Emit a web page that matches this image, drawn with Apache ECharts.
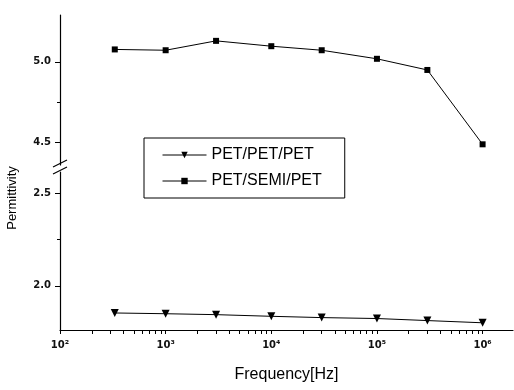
<!DOCTYPE html>
<html>
<head>
<meta charset="utf-8">
<script src="https://cdn.jsdelivr.net/npm/echarts@6/dist/echarts.min.js"></script>
<style>html,body{margin:0;padding:0;background:#fff}#c{width:514px;height:390px}</style>
</head>
<body>
<div id="c"></div>
<script>
// ---- data ----
var frequencies = [330, 1000, 3000, 10000, 30000, 100000, 300000, 1000000];
var petPetPet   = [1.853, 1.849, 1.844, 1.835, 1.828, 1.823, 1.812, 1.800];
var petSemiPet  = [5.077, 5.072, 5.130, 5.097, 5.072, 5.019, 4.950, 4.490];
var seriesNames = ['PET/PET/PET', 'PET/SEMI/PET'];
var xMajorTicks = [100, 1000, 10000, 100000, 1000000];
var xTickLabels = ['10\u00B2', '10\u00B3', '10\u2074', '10\u2075', '10\u2076'];
var yUpperTicks = [4.5, 5.0];
var yUpperMinor = [4.75];
var yLowerTicks = [2.0, 2.5];
var yLowerMinor = [2.25];

var xMin = 100, xMax = 1940000;
// all log ticks: decades plus 2..9 per decade
var xAllTicks = [];
xMajorTicks.forEach(function (d) { for (var k = 1; k <= 9; k++) { if (d * k < xMax) xAllTicks.push(d * k); } });

function pair(a, b) { return a.map(function (v, i) { return [v, b[i]]; }); }
var labelFont = { fontFamily: 'DejaVu Sans', fontWeight: 'bold', fontSize: 10, color: '#111' };
var axisLine = { show: true, lineStyle: { color: '#000', width: 1.2 } };

var chart = echarts.init(document.getElementById('c'), null, { renderer: 'canvas' });
chart.setOption({
  animation: false,
  backgroundColor: '#fff',
  grid: [
    { left: 60, right: 1, top: 15, height: 150 },
    { left: 60, right: 1, top: 172, bottom: 60 }
  ],
  xAxis: [
    { gridIndex: 0, type: 'log', min: xMin, max: xMax, show: false },
    { gridIndex: 1, type: 'log', position: 'bottom', min: xMin, max: xMax,
      axisLine: { show: true, onZero: false, lineStyle: { color: '#000', width: 1.2 } },
      axisTick: { show: true, length: 4, customValues: xAllTicks, lineStyle: { color: '#000', width: 1 } },
      axisLabel: { show: true, customValues: xMajorTicks, margin: 10,
        formatter: function (v) { var i = xMajorTicks.indexOf(v); return i >= 0 ? xTickLabels[i] : ''; },
        fontFamily: 'DejaVu Sans', fontWeight: 'bold', fontSize: 10, color: '#111' },
      splitLine: { show: false },
      name: 'Frequency[Hz]', nameLocation: 'middle', nameGap: 37,
      nameTextStyle: { fontFamily: 'Liberation Sans', fontSize: 16, color: '#000' } }
  ],
  yAxis: [
    { gridIndex: 0, type: 'value', position: 'left', min: 4.362, max: 5.29, axisLine: axisLine,
      axisTick: { show: true, length: 5, customValues: yUpperTicks, lineStyle: { color: '#000' } },
      axisLabel: Object.assign({ show: true, customValues: yUpperTicks, margin: 9,
        formatter: function (v) { return v.toFixed(1); } }, labelFont),
      splitLine: { show: false } },
    { gridIndex: 1, type: 'value', position: 'left', min: 1.761, max: 2.615, axisLine: axisLine,
      axisTick: { show: true, length: 5, customValues: yLowerTicks, lineStyle: { color: '#000' } },
      axisLabel: Object.assign({ show: true, customValues: yLowerTicks, margin: 9,
        formatter: function (v) { return v.toFixed(1); } }, labelFont),
      splitLine: { show: false } },
    { gridIndex: 0, type: 'value', position: 'left', offset: 0, min: 4.362, max: 5.29, axisLine: { show: false },
      axisTick: { show: true, length: 3, customValues: yUpperMinor, lineStyle: { color: '#000' } },
      axisLabel: { show: false }, splitLine: { show: false } },
    { gridIndex: 1, type: 'value', position: 'left', offset: 0, min: 1.761, max: 2.615, axisLine: { show: false },
      axisTick: { show: true, length: 3, customValues: yLowerMinor, lineStyle: { color: '#000' } },
      axisLabel: { show: false }, splitLine: { show: false } }
  ],
  legend: {
    orient: 'vertical', left: 144, top: 138,
    data: seriesNames,
    itemWidth: 44, itemHeight: 8, itemGap: 10,
    padding: [9, 23, 9, 18],
    borderColor: '#000', borderWidth: 1,
    lineStyle: { width: 1 },
    textStyle: { fontFamily: 'Liberation Sans', fontSize: 16, color: '#000' }
  },
  series: [
    { name: seriesNames[0], type: 'line', xAxisIndex: 1, yAxisIndex: 1,
      data: pair(frequencies, petPetPet), symbol: 'triangle', symbolRotate: 180, symbolSize: 8,
      lineStyle: { color: '#000', width: 1 }, itemStyle: { color: '#000' } },
    { name: seriesNames[1], type: 'line', xAxisIndex: 0, yAxisIndex: 0,
      data: pair(frequencies, petSemiPet), symbol: 'rect', symbolSize: 6,
      lineStyle: { color: '#000', width: 1 }, itemStyle: { color: '#000' } }
  ],
  graphic: [
    { type: 'rect', shape: { x: 56, y: 165, width: 8, height: 7 }, style: { fill: '#fff' } },
    { type: 'line', shape: { x1: 53, y1: 167, x2: 67, y2: 160 }, style: { stroke: '#000', lineWidth: 1.2 } },
    { type: 'line', shape: { x1: 53, y1: 174, x2: 67, y2: 167 }, style: { stroke: '#000', lineWidth: 1.2 } },
    { type: 'text', x: 12, y: 198, rotation: Math.PI / 2,
      style: { text: 'Permittivity', fontFamily: 'Liberation Sans', fontSize: 13, fill: '#000',
               align: 'center', verticalAlign: 'middle' } }
  ]
});
</script>
</body>
</html>
